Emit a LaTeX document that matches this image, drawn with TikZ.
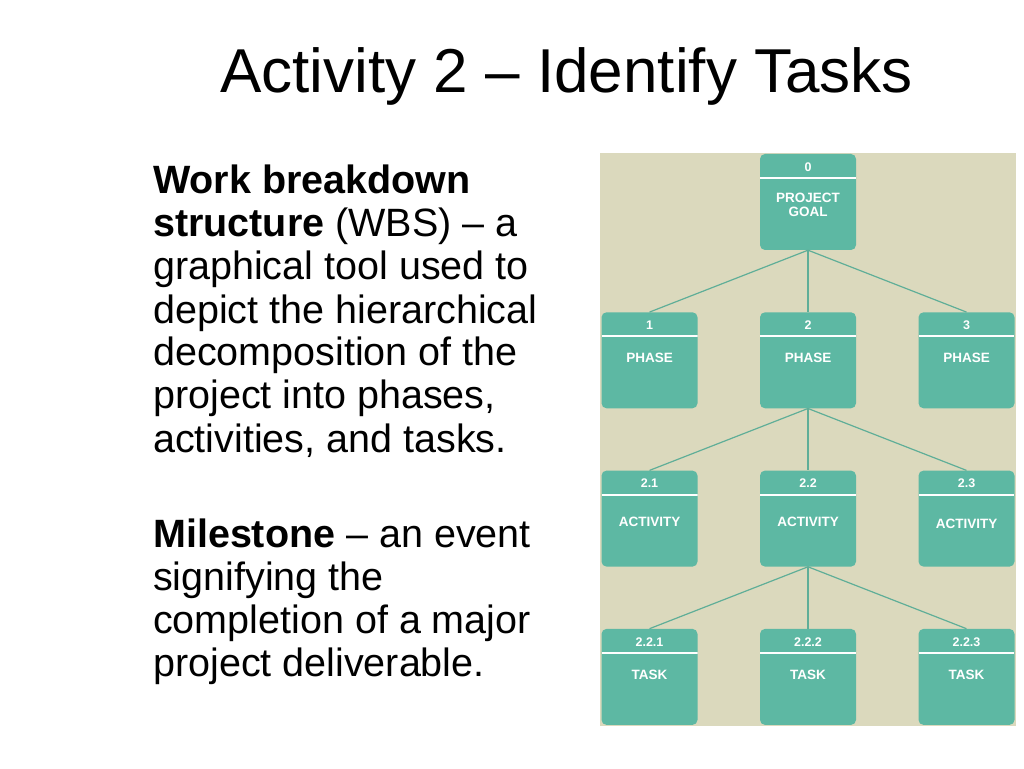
\documentclass[tikz,border=0pt]{standalone}
\usepackage{fontspec}
\setmainfont{Liberation Sans}
\definecolor{wbsteal}{HTML}{5DB8A3}
\definecolor{wbsline}{HTML}{5FAE98}
\definecolor{wbsback}{HTML}{DBD9BD}
\begin{document}
\begin{tikzpicture}[x=1pt,y=1pt,
    wbs/.style={fill=wbsteal,rounded corners=5pt,minimum width=96pt,minimum height=96pt,inner sep=0pt,
        path picture={\draw[white,line width=2pt] ([yshift=-24pt]path picture bounding box.north west) -- ([yshift=-24pt]path picture bounding box.north east);}},
    wbsnum/.style={text=white,font=\bfseries\fontsize{12.5}{14}\selectfont,yshift=35pt},
    wbslab/.style={text=white,font=\bfseries\fontsize{13.5}{14.5}\selectfont,align=center,yshift=2pt},
    level distance=158.3pt,sibling distance=158.5pt,
    edge from parent/.style={draw=wbsline,line width=1.2pt},
    parent anchor=south,child anchor=north]
    \fill[white] (0,0) rectangle (1024,768);
    \useasboundingbox (0,0) rectangle (1024,768);
    \node[anchor=base west,inner sep=0pt,font=\fontsize{62}{70}\selectfont](title) at (220,675.5){Activity 2 -- Identify Tasks};
    \node[anchor=base west,inner sep=0pt,align=left,font=\fontsize{39.5}{43}\selectfont](text) at (153,92){%
        \textbf{Work breakdown}\\
        \textbf{structure} (WBS) -- a\\
        graphical tool used to\\
        depict the hierarchical\\
        decomposition of the\\
        project into phases,\\
        activities, and tasks.\\[52pt]
        \textbf{Milestone} -- an event\\
        signifying the\\
        completion of a major\\
        project deliverable.};
    \fill[wbsback] (600,615) rectangle (1016,42);
    \node[wbs,label={[wbsnum]center:0},label={[wbslab,yshift=-5pt]center:PROJECT\\GOAL}](goal) at (808,566){}
        child{
                node[wbs,label={[wbsnum]center:1},label={[wbslab]center:PHASE}](p1){}
            }
        child{
                node[wbs,label={[wbsnum]center:2},label={[wbslab]center:PHASE}](p2){}
                child{
                        node[wbs,label={[wbsnum]center:2.1},label={[wbslab,yshift=-5pt]center:ACTIVITY}](a1){}
                    }
                child{
                        node[wbs,label={[wbsnum]center:2.2},label={[wbslab,yshift=-5pt]center:ACTIVITY}](a2){}
                        child{
                                node[wbs,label={[wbsnum]center:2.2.1},label={[wbslab]center:TASK}](t1){}
                            }
                        child{
                                node[wbs,label={[wbsnum]center:2.2.2},label={[wbslab]center:TASK}](t2){}
                            }
                        child{
                                node[wbs,label={[wbsnum]center:2.2.3},label={[wbslab]center:TASK}](t3){}
                            }
                    }
                child{
                        node[wbs,label={[wbsnum]center:2.3},label={[wbslab,yshift=-7pt]center:ACTIVITY}](a3){}
                    }
            }
        child{
                node[wbs,label={[wbsnum]center:3},label={[wbslab]center:PHASE}](p3){}
            };
\end{tikzpicture}
\end{document}
